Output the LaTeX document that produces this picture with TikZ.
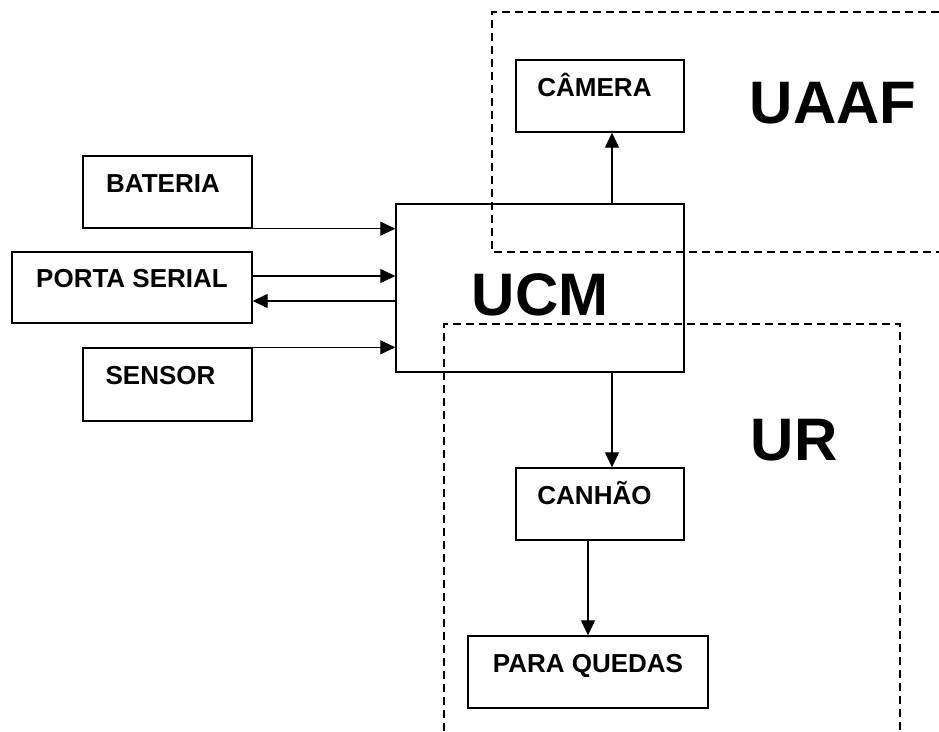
\documentclass[tikz,border=0pt]{standalone}
\usepackage{fontspec}
\setmainfont{Liberation Sans}
\usetikzlibrary{arrows.meta}
\def\smallfont{\fontsize{26}{30}\selectfont\bfseries}
\def\bigfont{\fontsize{60}{66}\selectfont\bfseries}

\begin{document}
\begin{tikzpicture}[x=1pt, y=-1pt,
		blk/.style={draw, line width=1.4pt, inner sep=0pt, text height=10pt, text depth=10pt, font=\smallfont},
		arr/.style={line width=1.2pt, -{Triangle[length=15pt, width=14pt]}},
		zone/.style={line width=1.1pt, dash pattern=on 8pt off 5pt}]
			%%%%% START %%%%%
			
			\useasboundingbox (0, 0) rectangle (939, 731);
			
			\draw[zone] (939, 12) -- (492, 12) -- (492, 252) -- (939, 252);
			\draw[zone] (444, 731) -- (444, 324) -- (900, 324) -- (900, 731);
			
			\node[blk, minimum width=169pt, minimum height=72pt] (bateria) at (167.5, 192) {BATERIA\kern9pt};
			\node[blk, minimum width=240pt, minimum height=71pt] (porta) at (132, 287.5) {PORTA SERIAL};
			\node[blk, minimum width=169pt, minimum height=73pt] (sensor) at (167.5, 384.5) {SENSOR\kern14pt};
			
			\node[blk, minimum width=288pt, minimum height=168pt, font=\bigfont, text height=54pt, text depth=0pt] (ucm) at (540, 288) {UCM};
			
			\node[blk, minimum width=168pt, minimum height=72pt] (camera) at (600, 96) {CÂMERA\kern11pt};
			\node[blk, minimum width=168pt, minimum height=72pt] (canhao) at (600, 504) {CANHÃO\kern11pt};
			\node[blk, minimum width=240pt, minimum height=72pt] (paraquedas) at (588, 672) {PARA QUEDAS};
			
			\node[font=\bigfont] (uaaf) at (833, 103) {UAAF};
			\node[font=\bigfont] (ur) at (794, 440) {UR};
			
			\draw[arr] (bateria.south east) -- (bateria.south east -| ucm.west);
			\draw[arr] ([yshift=11.5pt]porta.east) -- ([yshift=11.5pt]porta.east -| ucm.west);
			\draw[arr] ([yshift=-13.5pt]porta.east -| ucm.west) -- ([yshift=-13.5pt]porta.east);
			\draw[arr] (sensor.north east) -- (sensor.north east -| ucm.west);
			
			\draw[arr] ([xshift=12pt]camera.south |- ucm.north) -- ([xshift=12pt]camera.south);
			\draw[arr] ([xshift=12pt]canhao.north |- ucm.south) -- ([xshift=12pt]canhao.north);
			\draw[arr] (paraquedas.north |- canhao.south) -- (paraquedas.north);
			
			%%%%% END %%%%%
		\end{tikzpicture}
\end{document}
